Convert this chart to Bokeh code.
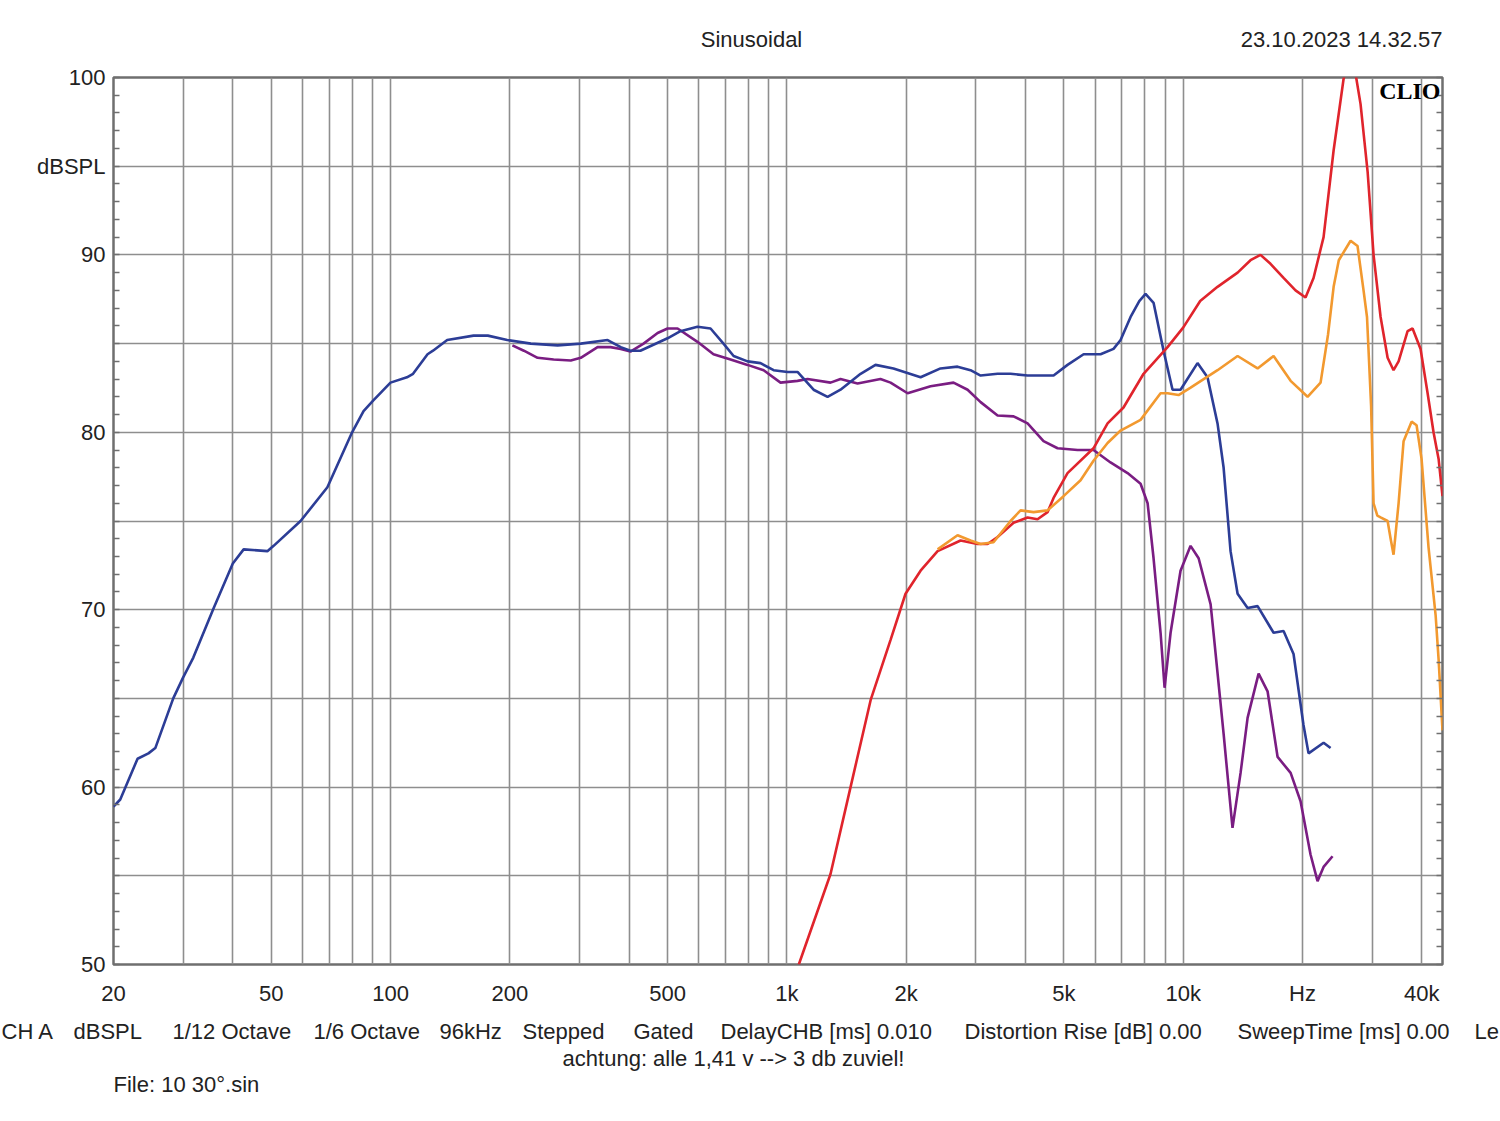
from bokeh.plotting import figure
from bokeh.layouts import column
from bokeh.models import Range1d, FixedTicker, LinearAxis, Label
from bokeh.embed import file_html
from bokeh.resources import INLINE

# ---------------- data (Hz, dBSPL) ----------------
blue_freq = [20, 20.8, 23.0, 24.5, 25.5, 28.3, 30.0, 31.8, 35.8, 40, 42.6, 48.9, 50.7, 59.3, 69.3,
             80, 85.5, 90.5, 100, 110, 114, 124, 128, 139, 162, 176, 197, 226, 264, 302, 353,
             381, 403, 427, 500, 539, 595, 642, 692, 734, 796, 858, 926, 1004, 1064, 1168,
             1267, 1366, 1535, 1674, 1858, 2175, 2442, 2696, 2907, 3083, 3402, 3668, 4050,
             4710, 5108, 5608, 6188, 6673, 6952, 7368, 7750, 8037, 8420, 8924, 9402, 9849, 10870,
             11520, 12210, 12650, 13170, 13720, 14540, 15410, 16910, 17920, 18990, 20120,
             20720, 22610, 23550]
blue_db = [58.9, 59.3, 61.6, 61.9, 62.2, 65.0, 66.2, 67.3, 70.1, 72.6, 73.4, 73.3, 73.6, 75.0, 76.9,
           80.0, 81.2, 81.8, 82.8, 83.1, 83.3, 84.4, 84.6, 85.2, 85.45, 85.45, 85.2, 85.0, 84.9,
           85.0, 85.2, 84.8, 84.6, 84.6, 85.3, 85.7, 85.95, 85.85, 85.0, 84.3, 84.0, 83.9, 83.5,
           83.4, 83.4, 82.4, 82.0, 82.4, 83.3, 83.8, 83.6, 83.1, 83.6, 83.7, 83.5, 83.2, 83.3,
           83.3, 83.2, 83.2, 83.8, 84.4, 84.4, 84.7, 85.2, 86.5, 87.4, 87.8, 87.3, 84.6, 82.4, 82.4,
           83.9, 83.1, 80.5, 78.0, 73.3, 70.9, 70.1, 70.2, 68.7, 68.8, 67.5, 63.5, 61.9, 62.5, 62.2]

purple_freq = [203, 217, 235, 258, 285, 302, 333, 359, 381, 403, 435, 472, 500, 530, 595, 653,
               721, 796, 874, 964, 1064, 1128, 1289, 1366, 1508, 1723, 1827, 2017, 2305, 2634,
               2858, 3083, 3402, 3733, 4050, 4443, 4821, 5414, 5940, 6557, 7239, 7808, 8134,
               8420, 8770, 8977, 9295, 9849, 10440, 10940, 11730, 11930, 12650, 13320, 13960,
               14540, 15500, 16330, 17310, 18670, 19780, 20960, 21830, 22610, 23820]
purple_db = [84.9, 84.6, 84.2, 84.1, 84.05, 84.2, 84.8, 84.8, 84.7, 84.55, 85.0, 85.6, 85.85,
             85.85, 85.1, 84.4, 84.1, 83.8, 83.5, 82.8, 82.9, 83.0, 82.8, 83.0, 82.75, 83.0,
             82.8, 82.2, 82.6, 82.8, 82.4, 81.7, 80.95, 80.9, 80.5, 79.5, 79.1, 79.0, 79.0,
             78.3, 77.7, 77.1, 76.0, 72.9, 68.7, 65.6, 68.7, 72.2, 73.6, 72.9, 70.3, 68.7,
             63.0, 57.7, 60.8, 63.9, 66.4, 65.4, 61.7, 60.8, 59.2, 56.2, 54.7, 55.5, 56.1]

red_freq = [1072, 1289, 1448, 1627, 1827, 1993, 2175, 2401, 2744, 3029, 3210, 3402, 3733, 4050,
            4291, 4548, 4710, 5108, 5940, 6446, 7071, 7945, 9133, 10000, 11040, 12210, 13720,
            14790, 15670, 16610, 17920, 19210, 20360, 21330, 22610, 23970, 25390, 26140, 27230,
            28030, 29200, 30230, 31490, 32800, 33950, 34960, 36840, 37920, 39720, 41380, 42830,
            44110, 45120]
red_db = [50.0, 55.1, 60.0, 64.9, 68.3, 70.9, 72.2, 73.3, 73.9, 73.7, 73.7, 74.1, 74.9, 75.2,
          75.1, 75.5, 76.3, 77.7, 79.1, 80.5, 81.4, 83.3, 84.8, 85.9, 87.4, 88.2, 89.0, 89.7,
          90.0, 89.5, 88.7, 88.0, 87.6, 88.7, 91.0, 95.9, 99.9, 101.0, 100.2, 98.5, 94.7, 90.0,
          86.5, 84.2, 83.5, 84.0, 85.7, 85.85, 84.7, 82.2, 80.0, 78.5, 76.4]

orange_freq = [2401, 2696, 2907, 3083, 3323, 3668, 3888, 4194, 4548, 4991, 5510, 5940, 6446,
               6952, 7808, 8770, 9133, 9736, 10420, 12210, 13720, 15410, 16910, 18670, 20600,
               22220, 23200, 23970, 24700, 26450, 27540, 28520, 29100, 29800, 30230, 30900,
               31490, 32800, 33380, 33950, 34960, 35990, 37700, 38810, 39950, 41610, 43350,
               44110, 45120]
orange_db = [73.4, 74.2, 73.9, 73.7, 73.8, 75.0, 75.6, 75.5, 75.6, 76.4, 77.3, 78.4, 79.4, 80.1,
             80.7, 82.2, 82.2, 82.1, 82.5, 83.5, 84.3, 83.6, 84.3, 82.9, 82.0, 82.8, 85.5, 88.2,
             89.7, 90.8, 90.5, 88.0, 86.5, 81.5, 76.0, 75.3, 75.2, 75.0, 74.0, 73.1, 76.0, 79.5,
             80.6, 80.4, 78.5, 73.5, 69.7, 67.2, 63.2]

x_tick_values = [20, 50, 100, 200, 500, 1000, 2000, 5000, 10000, 20000, 40000]
x_tick_labels = ["20", "50", "100", "200", "500", "1k", "2k", "5k", "10k", "Hz", "40k"]
y_tick_values = [50, 60, 70, 80, 90, 95, 100]
y_tick_labels = ["50", "60", "70", "80", "90", "dBSPL", "100"]

footer_items = ["CH A", "dBSPL", "1/12 Octave", "1/6 Octave", "96kHz", "Stepped", "Gated",
                "DelayCHB [ms] 0.010", "Distortion Rise [dB] 0.00", "SweepTime [ms] 0.00", "Le"]
footer_x = [1, 73, 172, 313, 439, 522, 633, 720, 964, 1237, 1474]

# ---------------- style ----------------
FONT = "Liberation Sans"
GRID = "#8e8e8e"
FRAME = "#6f6f6f"
TXT = "#222222"
W = 1500
TOP_H = 60
FOOT_H = 111
MAIN_H = 17 + 887 + 46


def lab(fig, x, y, text, align="left", size="22px", font=FONT, style="normal", color=TXT):
    fig.add_layout(Label(x=x, y=y, x_units="screen", y_units="screen", text=text,
                         text_align=align, text_baseline="middle", text_font=font,
                         text_font_size=size, text_font_style=style, text_color=color))


def text_strip(height):
    f = figure(width=W, height=height, x_range=Range1d(0, W), y_range=Range1d(0, height),
               output_backend="svg", toolbar_location=None, x_axis_location=None,
               y_axis_location=None, min_border=0, frame_align=False)
    f.outline_line_color = None
    f.xgrid.visible = False
    f.ygrid.visible = False
    f.background_fill_color = "white"
    f.border_fill_color = "white"
    return f


# ---------------- header ----------------
top = text_strip(TOP_H)
lab(top, 751, TOP_H - 39, "Sinusoidal", align="center")
lab(top, 1442, TOP_H - 39, "23.10.2023 14.32.57", align="right")

# ---------------- main chart ----------------
p = figure(width=W, height=MAIN_H, x_axis_type="log",
           x_range=Range1d(20, 45120), y_range=Range1d(50, 100),
           output_backend="svg", toolbar_location=None, frame_align=False,
           min_border_left=113, min_border_right=58, min_border_top=17, min_border_bottom=46)
p.background_fill_color = "white"
p.border_fill_color = "white"
p.outline_line_color = FRAME
p.outline_line_width = 2.5

grid_x = [m * 10 ** e for e in range(1, 5) for m in range(1, 10) if 20 <= m * 10 ** e <= 45000]
p.xgrid.ticker = FixedTicker(ticks=grid_x)
p.ygrid.ticker = FixedTicker(ticks=list(range(50, 101, 5)))
for g in (p.xgrid, p.ygrid):
    g.grid_line_color = GRID
    g.grid_line_width = 1.6

xa = p.xaxis[0]
xa.ticker = FixedTicker(ticks=x_tick_values)
xa.major_label_overrides = dict(zip(x_tick_values, x_tick_labels))
xa.axis_line_color = None
xa.major_tick_in = 0
xa.major_tick_out = 0
xa.minor_tick_line_color = None
xa.major_label_standoff = 16
xa.major_label_text_font = FONT
xa.major_label_text_font_size = "22px"
xa.major_label_text_color = TXT

ya = p.yaxis[0]
ya.ticker = FixedTicker(ticks=y_tick_values, minor_ticks=list(range(50, 101)))
ya.major_label_overrides = dict(zip(y_tick_values, y_tick_labels))
ya.axis_line_color = None
ya.major_tick_in = 0
ya.major_tick_out = 0
ya.minor_tick_in = 6
ya.minor_tick_out = 0
ya.minor_tick_line_color = FRAME
ya.minor_tick_line_width = 1.5
ya.major_label_standoff = 8
ya.major_label_text_font = FONT
ya.major_label_text_font_size = "22px"
ya.major_label_text_color = TXT

ra = LinearAxis(ticker=FixedTicker(ticks=y_tick_values, minor_ticks=list(range(50, 101))),
                axis_line_color=None, major_tick_in=0, major_tick_out=0,
                minor_tick_in=6, minor_tick_out=0, minor_tick_line_color=FRAME,
                minor_tick_line_width=1.5, major_label_text_font_size="1px",
                major_label_text_alpha=0, major_label_standoff=0)
p.add_layout(ra, "right")

p.line(purple_freq, purple_db, line_color="#7a1d82", line_width=2.6)
p.line(blue_freq, blue_db, line_color="#2c3d96", line_width=2.6)
p.line(red_freq, red_db, line_color="#e0242c", line_width=2.6)
p.line(orange_freq, orange_db, line_color="#f2992f", line_width=2.6)

# CLIO mark inside the frame (screen units relative to frame bottom-left)
lab(p, 1327, 874, "CLIO", align="right", size="24px", font="Liberation Serif", style="bold",
    color="#000000")

# ---------------- footer ----------------
foot = text_strip(FOOT_H)
for fx, ft in zip(footer_x, footer_items):
    lab(foot, fx, FOOT_H - 21, ft)
lab(foot, 733, FOOT_H - 48, "achtung: alle 1,41 v --> 3 db zuviel!", align="center")
lab(foot, 113, FOOT_H - 74, "File: 10 30°.sin")

layout = column(top, p, foot, spacing=0)
open("out.html", "w").write(file_html(layout, INLINE))
